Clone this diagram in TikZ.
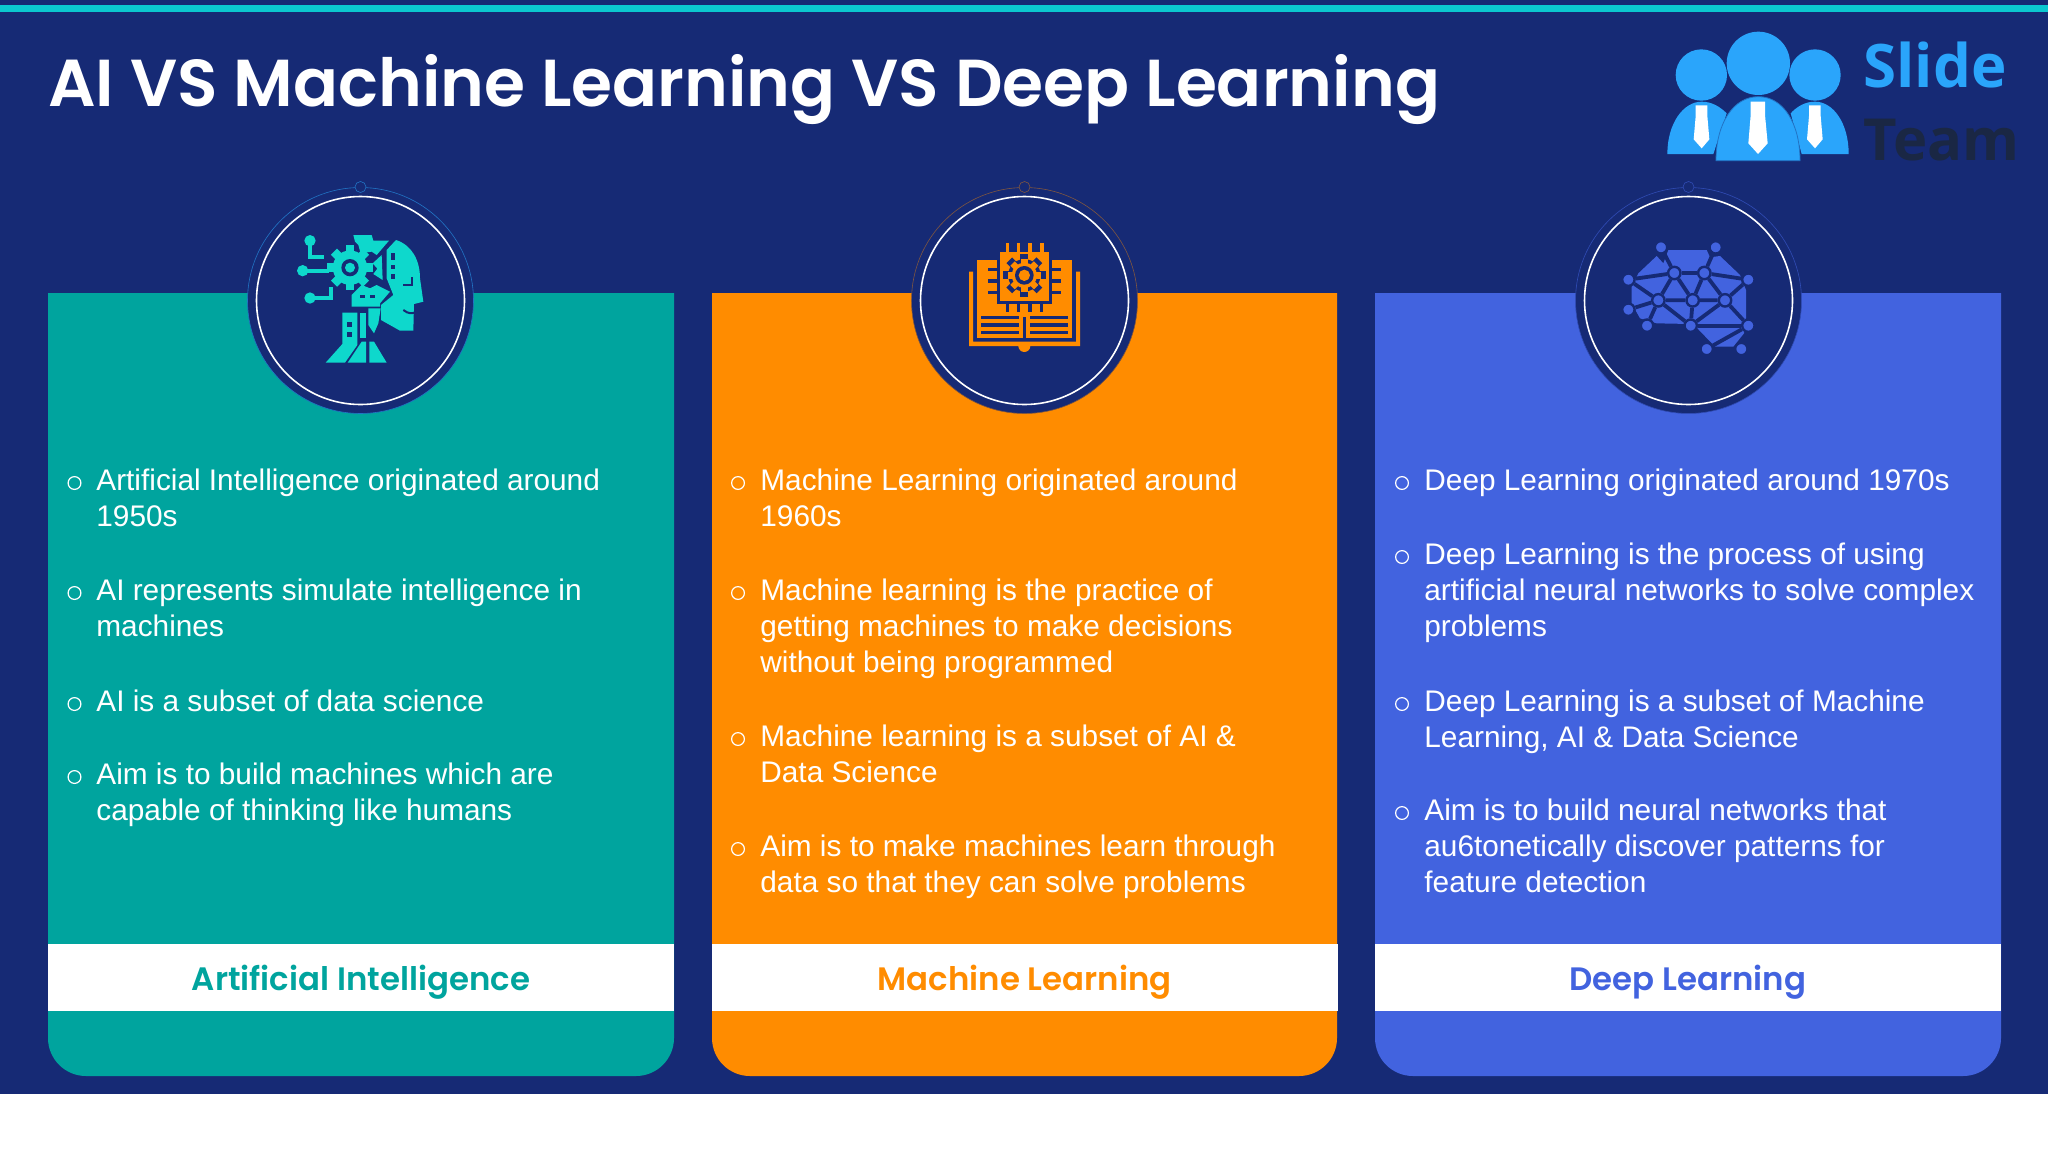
\documentclass[tikz,border=0pt]{standalone}
\usepackage{fontspec}
\setmainfont{Liberation Sans}
\newfontfamily\headfont{Poppins SemiBold}
\newfontfamily\logofont{Open Sans}
\definecolor{navybg}{HTML}{162A75}
\definecolor{topcyan}{HTML}{0BC8D0}
\definecolor{cardteal}{HTML}{00A49E}
\definecolor{cardorange}{HTML}{FF8C00}
\definecolor{cardblue}{HTML}{4263DF}
\definecolor{iconteal}{HTML}{0ED8CC}
\definecolor{logoblue}{HTML}{2AA5FB}
\definecolor{logodark}{HTML}{1A2744}
\newcommand{\gearshape}[4]{%
    \fill [#4] (#1,#2) circle [radius=#3*0.76];
    \foreach \a in {0,45,...,315}
        \fill [#4,shift={(#1,#2)},rotate=\a] (-#3*0.19,#3*0.6) rectangle (#3*0.19,#3);
}
\tikzset{
    bodytext/.style={anchor=north west,inner sep=0pt,align=flush left,text=white,text width=290pt,
        font=\fontsize{14.9}{18}\selectfont,execute at begin node=\strut},
    bullet/.style={circle,draw=white,line width=0.6pt,minimum size=6.4pt,inner sep=0pt},
    band/.style={fill=white,minimum width=313pt,minimum height=33.5pt,inner sep=0pt,text depth=0pt,
        font=\headfont\fontsize{16.2}{20}\selectfont},
    disc/.style={fill=navybg},
    ring/.style={draw=white,line width=0.8pt},
    netdot/.style={circle,fill=cardblue,draw=navybg,line width=1.2pt,minimum size=6.2pt,inner sep=0pt},
    netline/.style={draw=navybg,line width=1.9pt}
}
\begin{document}
\begin{tikzpicture}[x=0.5pt,y=-0.5pt]
    \useasboundingbox (0,0) rectangle (2048,1152);
    \fill [white] (0,0) rectangle (2048,1152);

    % Slide background
    \fill [navybg] (0,0) rectangle (2048,1094);
    \fill [topcyan] (0,5) rectangle (2048,12);
    \node (mainTitle) at (48,106) [anchor=base west,inner sep=0pt,text=white,
        font=\headfont\fontsize{33.2}{40}\selectfont] {AI VS Machine Learning VS Deep Learning};

    % Logo
    \begin{scope}[shift={(1620,0)},scale=1/3]
        \fill [logoblue] (244,225) circle [radius=77];
        \fill [logoblue] (585,225) circle [radius=77];
        \fill [logoblue] (415,190) circle [radius=95];
        \fill [logoblue] (142,462) .. controls (142,370) and (190,305) .. (245,305)
            .. controls (275,305) and (300,320) .. (320,340) -- (280,462) -- cycle;
        \fill [logoblue] (686,462) .. controls (686,370) and (640,305) .. (585,305)
            .. controls (555,305) and (530,320) .. (512,340) -- (545,462) -- cycle;
        \filldraw [fill=logoblue,draw=logoblue!60!navybg,line width=0.4pt] (288,482) .. controls (288,370) and (340,290) .. (415,290)
            .. controls (490,290) and (540,370) .. (540,482) -- cycle;
        \fill [white] (392,305) -- (435,305) -- (435,345) -- (443,430) -- (414,462) -- (385,430) -- (392,345) -- cycle;
        \fill [white] (227,316) -- (262,316) -- (262,348) -- (268,418) -- (245,445) -- (221,418) -- (227,348) -- cycle;
        \fill [white] (567,316) -- (602,316) -- (602,348) -- (608,418) -- (585,445) -- (561,418) -- (567,348) -- cycle;
    \end{scope}
    \node (logoSlide) at (1863,87) [anchor=base west,inner sep=0pt,text=logoblue,
        font=\logofont\bfseries\fontsize{30}{32}\selectfont] {Slide};
    \node (logoTeam) at (1863,160) [anchor=base west,inner sep=0pt,text=logodark,
        font=\logofont\bfseries\fontsize{29}{32}\selectfont] {Team};

    % Cards
    \fill [cardteal] (48,293) -- (674,293) [rounded corners=19pt] -- (674,1076) -- (48,1076) [sharp corners] -- cycle;
    \fill [cardorange] (712,293) -- (1337,293) [rounded corners=19pt] -- (1337,1076) -- (712,1076) [sharp corners] -- cycle;
    \fill [cardblue] (1375,293) -- (2001,293) [rounded corners=19pt] -- (2001,1076) -- (1375,1076) [sharp corners] -- cycle;

    % Card names
    \node (aiBand) at (361,977.5) [band,text=cardteal] {Artificial Intelligence};
    \node (mlBand) at (1024.5,977.5) [band,text=cardorange] {Machine Learning};
    \node (dlBand) at (1688,977.5) [band,text=cardblue] {Deep Learning};

    % Icon discs
    \fill [disc] (360.5,300.5) circle [radius=113];
    \draw [ring] (360.5,300.5) circle [radius=104];
    \draw [draw=logoblue!60!navybg,line width=0.3pt] (360.5,300.5) circle [radius=113];
    \draw [draw=logoblue!60!navybg,line width=0.3pt,fill=navybg] (360.5,187) circle [radius=5.5];
    \fill [disc] (1024.5,300.5) circle [radius=113];
    \draw [ring] (1024.5,300.5) circle [radius=104];
    \draw [draw=cardorange!45!navybg,line width=0.3pt] (1024.5,300.5) circle [radius=113];
    \draw [draw=cardorange!45!navybg,line width=0.3pt,fill=navybg] (1024.5,187) circle [radius=5.5];
    \fill [disc] (1688.5,300.5) circle [radius=113];
    \draw [ring] (1688.5,300.5) circle [radius=104];
    \draw [draw=cardblue!60!navybg,line width=0.3pt] (1688.5,300.5) circle [radius=113];
    \draw [draw=cardblue!60!navybg,line width=0.3pt,fill=navybg] (1688.5,187) circle [radius=5.5];

    % Robot head icon
    \begin{scope}[shift={(230,170)},scale=1/3]
        \fill [iconteal] (498,210) .. controls (545,225) and (570,270) .. (570,325) -- (580,395) -- (552,402)
            -- (550,482) -- (510,482) -- (453,450) -- (453,405) -- (490,375) -- (470,325) -- (470,240) -- cycle;
        \draw [navybg,line width=1pt] (520,345) -- (545,345) -- (545,322);
        \draw [navybg,line width=1pt] (520,420) .. controls (535,432) and (548,432) .. (558,425);
        \fill [navybg] (482,250) rectangle (495,270);
        \fill [navybg] (482,285) rectangle (495,298);
        \fill [navybg] (482,313) rectangle (495,326);
        \fill [iconteal] (370,195) -- (425,195) -- (430,212) -- (477,212) -- (440,255) -- (425,245) -- (392,250) -- (385,225) -- (375,215) -- cycle;
        \gearshape{360}{293}{68}{iconteal}
        \fill [navybg] (360,293) circle [radius=26];
        \fill [iconteal] (360,293) circle [radius=15];
        \fill [iconteal] (428,280) -- (455,255) -- (458,330) -- (430,312) -- (442,296) -- cycle;
        \fill [iconteal] (365,375) -- (395,345) -- (420,355) -- (440,345) -- (480,365) -- (450,400) -- (450,410) -- (365,410) -- cycle;
        \fill [navybg] (390,374) rectangle (404,385);
        \fill [navybg] (420,374) rectangle (434,385);
        \fill [iconteal] (337,428) -- (382,428) -- (382,525) -- (345,578) -- (287,578) -- (337,522) -- cycle;
        \fill [navybg] (350,455) rectangle (366,470);
        \fill [navybg] (350,485) rectangle (366,500);
        \fill [iconteal] (390,428) -- (408,428) -- (408,505) -- (390,505) -- cycle;
        \fill [iconteal] (415,415) -- (452,415) -- (445,460) -- (432,490) -- (415,465) -- cycle;
        \fill [iconteal] (395,515) -- (408,515) -- (408,578) -- (353,578) -- cycle;
        \fill [iconteal] (418,515) -- (432,515) -- (470,578) -- (418,578) -- cycle;
        \fill [iconteal] (240,212) circle [radius=17];
        \fill [iconteal] (218,302) circle [radius=17];
        \fill [iconteal] (240,384) circle [radius=17];
        \draw [iconteal,line width=2pt] (240,220) -- (240,262) -- (282,262);
        \draw [iconteal,line width=2pt] (218,302) -- (296,302);
        \draw [iconteal,line width=2pt] (240,384) -- (304,384) -- (304,350);
    \end{scope}

    % Book and chip icon
    \begin{scope}[shift={(895,170)},scale=1/3]
        \fill [cardorange] (222,305) -- (234,305) -- (234,515) -- (543,515) -- (543,305) -- (555,305) -- (555,528) -- (222,528) -- cycle;
        \fill [cardorange] (370,528) arc [start angle=180,end angle=0,radius=18] -- cycle;
        \fill [cardorange] (246,270) rectangle (530,505);
        \fill [navybg] (305,245) rectangle (472,402);
        \fill [cardorange] (315,245) rectangle (462,392);
        \foreach \px in {337,370,405,440} {
            \fill [cardorange] (\px-5.5,220) rectangle (\px+5.5,245);
            \fill [navybg] (\px-5,402) rectangle (\px+5,426);
        }
        \foreach \py in {298,333,367} {
            \fill [navybg] (280,\py-5) rectangle (305,\py+5);
            \fill [navybg] (472,\py-5) rectangle (497,\py+5);
        }
        \foreach \py in {437,460,483} {
            \fill [navybg] (258,\py) rectangle (372,\py+10);
            \fill [navybg] (406,\py) rectangle (520,\py+10);
        }
        \fill [navybg] (383,440) rectangle (393,505);
        \gearshape{388}{316}{64}{navybg}
        \gearshape{388}{316}{50}{cardorange}
        \fill [navybg] (388,316) circle [radius=28];
        \fill [cardorange] (388,316) circle [radius=17];
    \end{scope}

    % Brain network icon
    \begin{scope}[shift={(1560,170)},scale=1/3]
        \fill [cardblue] (325,240) -- (440,240) -- (450,262) -- (480,258) -- (540,315) -- (558,360) -- (558,445)
            -- (552,490) -- (520,530) -- (465,530) -- (415,478) -- (392,462) -- (290,460) -- (240,445)
            -- (215,400) -- (215,350) -- (235,310) -- (290,258) -- (310,280) -- cycle;
        \node (brainA) at (303,232) [netdot] {};
        \node (brainB) at (467,232) [netdot] {};
        \node (brainC) at (205,329) [netdot] {};
        \node (brainD) at (565,329) [netdot] {};
        \node (brainE) at (205,419) [netdot] {};
        \node (brainF) at (261,467) [netdot] {};
        \node (brainG) at (392,467) [netdot] {};
        \node (brainH) at (565,467) [netdot] {};
        \node (brainI) at (440,537) [netdot] {};
        \node (brainJ) at (544,537) [netdot] {};
        \node (brainK) at (343,309) [netdot] {};
        \node (brainL) at (433,309) [netdot] {};
        \node (brainM) at (295,391) [netdot] {};
        \node (brainN) at (398,391) [netdot] {};
        \node (brainO) at (495,391) [netdot] {};
        \draw [netline] (brainA) -- (brainK);
        \draw [netline] (brainB) -- (brainL);
        \draw [netline] (brainC) -- (brainK);
        \draw [netline] (brainD) -- (brainL);
        \draw [netline] (brainC) -- (brainM);
        \draw [netline] (brainE) -- (brainM);
        \draw [netline] (brainF) -- (brainM);
        \draw [netline] (brainK) -- (brainL);
        \draw [netline] (brainK) -- (brainM);
        \draw [netline] (brainK) -- (brainN);
        \draw [netline] (brainL) -- (brainN);
        \draw [netline] (brainL) -- (brainO);
        \draw [netline] (brainM) -- (brainN);
        \draw [netline] (brainN) -- (brainO);
        \draw [netline] (brainM) -- (brainG);
        \draw [netline] (brainN) -- (brainG);
        \draw [netline] (brainO) -- (brainG);
        \draw [netline] (brainO) -- (brainD);
        \draw [netline] (brainO) -- (brainH);
        \draw [netline] (brainG) -- (brainH);
        \draw [netline] (brainH) -- (brainI);
        \draw [netline] (brainI) -- (brainJ);
    \end{scope}

    % Artificial Intelligence points
    \node (aiDotA) at (74.5,483) [bullet] {};
    \node (aiDotB) at (74.5,593) [bullet] {};
    \node (aiDotC) at (74.5,704) [bullet] {};
    \node (aiDotD) at (74.5,777) [bullet] {};
    \node (aiTextA) at (96,465.2) [bodytext] {Artificial Intelligence originated around\\1950s};
    \node (aiTextB) at (96,575.2) [bodytext] {AI represents simulate intelligence in\\machines};
    \node (aiTextC) at (96,686.2) [bodytext] {AI is a subset of data science};
    \node (aiTextD) at (96,759.2) [bodytext] {Aim is to build machines which are\\capable of thinking like humans};

    % Machine Learning points
    \node (mlDotA) at (738,483) [bullet] {};
    \node (mlDotB) at (738,593) [bullet] {};
    \node (mlDotC) at (738,739) [bullet] {};
    \node (mlDotD) at (738,849) [bullet] {};
    \node (mlTextA) at (760,465.2) [bodytext] {Machine Learning originated around\\1960s};
    \node (mlTextB) at (760,575.2) [bodytext] {Machine learning is the practice of\\getting machines to make decisions\\without being programmed};
    \node (mlTextC) at (760,721.2) [bodytext] {Machine learning is a subset of AI \&\\Data Science};
    \node (mlTextD) at (760,831.2) [bodytext] {Aim is to make machines learn through\\data so that they can solve problems};

    % Deep Learning points
    \node (dlDotA) at (1402,483) [bullet] {};
    \node (dlDotB) at (1402,557) [bullet] {};
    \node (dlDotC) at (1402,704) [bullet] {};
    \node (dlDotD) at (1402,813) [bullet] {};
    \node (dlTextA) at (1424,465.2) [bodytext] {Deep Learning originated around 1970s};
    \node (dlTextB) at (1424,539.2) [bodytext] {Deep Learning is the process of using\\artificial neural networks to solve complex\\problems};
    \node (dlTextC) at (1424,686.2) [bodytext] {Deep Learning is a subset of Machine\\Learning, AI \& Data Science};
    \node (dlTextD) at (1424,795.2) [bodytext] {Aim is to build neural networks that\\au6tonetically discover patterns for\\feature detection};
\end{tikzpicture}
\end{document}
